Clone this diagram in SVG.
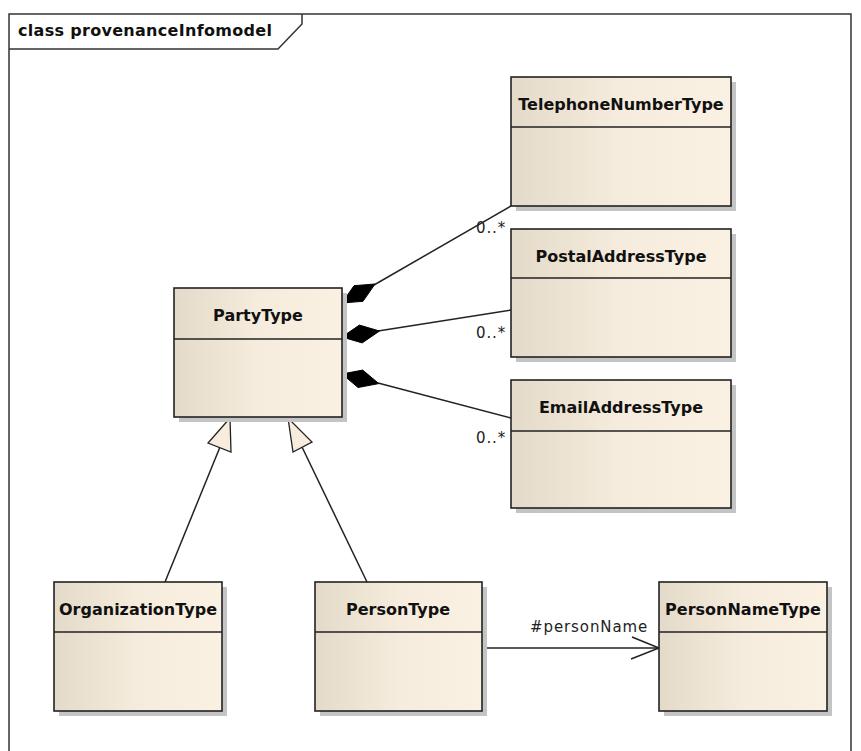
<svg xmlns="http://www.w3.org/2000/svg" width="861" height="751" viewBox="0 0 861 751">
<style>
.frame{fill:none;stroke:#333;stroke-width:1.5}
.shadow{fill:#c4c4c4}
.box{fill:url(#g);stroke:#222;stroke-width:1.6}
.div{stroke:#222;stroke-width:1.6}
.name{font-family:"DejaVu Sans",sans-serif;font-weight:bold;font-size:16px;fill:#111;text-anchor:middle}
.lbl{font-family:"DejaVu Sans",sans-serif;font-size:15px;letter-spacing:0.9px;fill:#222}
.title{font-family:"DejaVu Sans",sans-serif;font-weight:bold;font-size:16px;letter-spacing:0.3px;fill:#111}
.ln{fill:none;stroke:#222;stroke-width:1.5}
.dia{fill:#000;stroke:#000;stroke-width:1}
.tri{fill:#f8ecdc;stroke:#222;stroke-width:1.3}
</style>
<defs>
<linearGradient id="g" x1="0" y1="0" x2="1" y2="0">
<stop offset="0" stop-color="#e4dac9"/>
<stop offset="0.5" stop-color="#f6ecdd"/>
<stop offset="1" stop-color="#fbf1e3"/>
</linearGradient>
</defs>
<rect width="861" height="751" fill="#fff"/>
<g id="frame">
<path class="frame" d="M9,751 V14 H851 V751"/>
<path class="frame" d="M9,49 H278 L302,24 V14"/>
<text class="title" x="18" y="36">class provenanceInfomodel</text>
</g>
<g id="connectors">
<line class="ln" x1="374" y1="285" x2="511" y2="206"/>
<polygon class="dia" points="342,303 354,285.7 375,284 363,301.3"/>
<line class="ln" x1="378" y1="331" x2="511" y2="310"/>
<polygon class="dia" points="342,337 359.4,325.1 379.5,331 362.2,342.9"/>
<line class="ln" x1="378" y1="383" x2="511" y2="418"/>
<polygon class="dia" points="342,374 362.7,370.1 378.8,383.6 358.1,387.5"/>
<text class="lbl" x="476" y="233">0..*</text>
<text class="lbl" x="476" y="338">0..*</text>
<text class="lbl" x="476" y="443">0..*</text>
<line class="ln" x1="165" y1="582" x2="220" y2="447"/>
<polygon class="tri" points="230,418 208,443 231,452"/>
<line class="ln" x1="367" y1="582" x2="302" y2="447"/>
<polygon class="tri" points="288,418 293,452 312,442"/>
<line class="ln" x1="482" y1="648" x2="659" y2="648"/>
<polyline class="ln" points="632,637 659,648 631,659"/>
<text class="lbl" x="530" y="632">#personName</text>
</g>
<g id="TelephoneNumberType">
<rect class="shadow" x="516" y="82" width="220" height="129"/>
<rect class="box" x="511" y="77" width="220" height="129"/>
<line class="div" x1="511" y1="127" x2="731" y2="127"/>
<text class="name" x="621" y="110">TelephoneNumberType</text>
</g>
<g id="PostalAddressType">
<rect class="shadow" x="516" y="234" width="220" height="128"/>
<rect class="box" x="511" y="229" width="220" height="128"/>
<line class="div" x1="511" y1="278" x2="731" y2="278"/>
<text class="name" x="621" y="262">PostalAddressType</text>
</g>
<g id="EmailAddressType">
<rect class="shadow" x="516" y="385" width="220" height="128"/>
<rect class="box" x="511" y="380" width="220" height="128"/>
<line class="div" x1="511" y1="431" x2="731" y2="431"/>
<text class="name" x="621" y="413">EmailAddressType</text>
</g>
<g id="PartyType">
<rect class="shadow" x="179" y="293" width="168" height="129"/>
<rect class="box" x="174" y="288" width="168" height="129"/>
<line class="div" x1="174" y1="339" x2="342" y2="339"/>
<text class="name" x="258" y="321">PartyType</text>
</g>
<g id="OrganizationType">
<rect class="shadow" x="59" y="587" width="168" height="129"/>
<rect class="box" x="54" y="582" width="168" height="129"/>
<line class="div" x1="54" y1="632" x2="222" y2="632"/>
<text class="name" x="138" y="615">OrganizationType</text>
</g>
<g id="PersonType">
<rect class="shadow" x="320" y="587" width="167" height="129"/>
<rect class="box" x="315" y="582" width="167" height="129"/>
<line class="div" x1="315" y1="632" x2="482" y2="632"/>
<text class="name" x="398" y="615">PersonType</text>
</g>
<g id="PersonNameType">
<rect class="shadow" x="664" y="587" width="168" height="129"/>
<rect class="box" x="659" y="582" width="168" height="129"/>
<line class="div" x1="659" y1="632" x2="827" y2="632"/>
<text class="name" x="743" y="615">PersonNameType</text>
</g>
</svg>
